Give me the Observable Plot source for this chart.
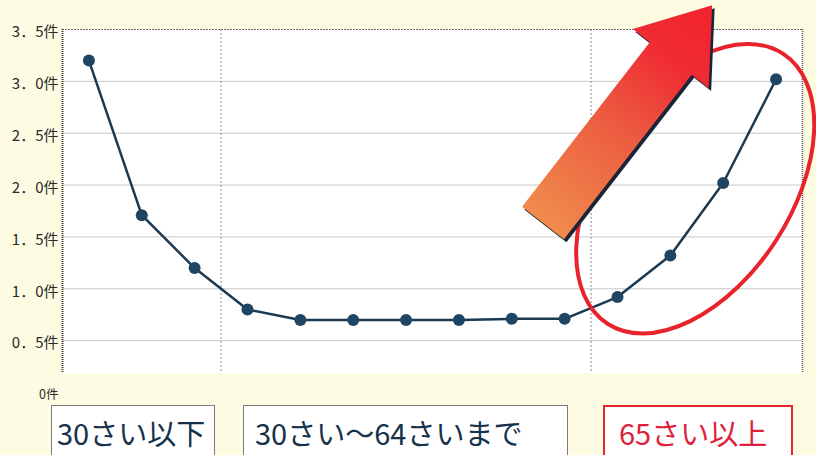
<!DOCTYPE html>
<html>
<head>
<meta charset="utf-8">
<script src="https://cdn.jsdelivr.net/npm/d3@7"></script>
<script src="https://cdn.jsdelivr.net/npm/@observablehq/plot@0.6"></script>
<style>
  html, body { margin:0; padding:0; width:816px; height:455px; overflow:hidden; background:#fdfbe2; }
  #chart { position:absolute; left:0; top:0; }
  .box { position:absolute; top:405px; height:50px; box-sizing:border-box; background:#fff;
         border:1px solid #7a7a7a; border-bottom:none; font-family:"Noto Sans CJK JP", sans-serif; font-size:29px;
         line-height:34px; padding-top:9px; color:#16324a; white-space:nowrap; overflow:visible; }
  #b0 { left:51px; width:164px; padding-left:5px; }
  #b1 { left:243px; width:325px; padding-left:11px; }
  #b2 { left:603px; width:190px; padding-left:14px; border:2.5px solid #e8262e; border-bottom:none; color:#e01f3c; padding-top:7.5px; }
</style>
</head>
<body>
<div id="chart"></div>
<script>
// ---- data ----
const categories = ["～19","20～24","25～29","30～34","35～39","40～44","45～49","50～54","55～59","60～64","65～69","70～74","75～79","80～"];
const values = [3.20, 1.71, 1.20, 0.80, 0.70, 0.70, 0.70, 0.70, 0.71, 0.71, 0.92, 1.32, 2.02, 3.02];
const groupLabels = ["30さい以下", "30さい～64さいまで", "65さい以上"];
const groupSizes = [3, 7, 4];
const yTicks = [0, 0.5, 1.0, 1.5, 2.0, 2.5, 3.0, 3.5];
// annotation anchors in data coordinates (category index, value)
const arrowTail = [8.6, 1.63];
const arrowTip = [11.8, 3.73];
const ellipseCenter = [11.48, 1.96];

const data = categories.map((c, i) => ({c, i, v: values[i]}));
const boundaries = [];
groupSizes.reduce((acc, n, k) => { acc += n; if (k < groupSizes.length - 1) boundaries.push(acc - 0.5); return acc; }, 0);

const fmt = v => v === 0 ? "0件" : v.toFixed(1).replace(".", "．") + "件";

const chart = Plot.plot({
  width: 816, height: 404,
  marginTop: 29, marginBottom: 31, marginLeft: 62, marginRight: 14,
  style: {background: "transparent", fontFamily: "'Noto Sans CJK JP', sans-serif"},
  x: {type: "linear", domain: [-0.5, categories.length - 0.5], axis: null},
  y: {domain: [0, 3.5], range: [392, 29], axis: null},
  marks: [
    Plot.frame({fill: "white", stroke: null}),
    Plot.ruleY(yTicks.filter(d => d > 0 && d < 3.5), {stroke: "#c6c6c6", strokeWidth: 1}),
    Plot.ruleX(boundaries, {stroke: "#8c8c8c", strokeDasharray: "2,2"}),
    Plot.ruleY([3.5], {stroke: "#6a6a6a", strokeDasharray: "2,1"}),
    Plot.ruleX([-0.5], {stroke: "#3a3a3a", strokeWidth: 2, strokeDasharray: "1,1"}),
    Plot.ruleX([categories.length - 0.5], {stroke: "#5a5a5a", strokeWidth: 1.5, strokeDasharray: "1,1"}),
    Plot.line(data, {x: "i", y: "v", stroke: "#1b3a52", strokeWidth: 2.5}),
    Plot.dot(data, {x: "i", y: "v", r: 6, fill: "#1f4562", stroke: null}),
    Plot.axisY(yTicks.filter(d => d > 0), {tickSize: 0, tickPadding: 4, dy: 3, fontSize: 15, color: "#2a2a2a", tickFormat: fmt, label: null}),
    Plot.axisY([0], {tickSize: 0, tickPadding: 4, dy: 2, fontSize: 12.5, color: "#2a2a2a", tickFormat: fmt, label: null})
  ]
});
document.getElementById("chart").appendChild(chart);

// ---- annotations (ellipse + big arrow) positioned through the plot scales ----
const sx = chart.scale("x"), sy = chart.scale("y");
const svg = d3.select(chart);
const ecx = sx.apply(ellipseCenter[0]), ecy = sy.apply(ellipseCenter[1]);
svg.append("ellipse")
  .attr("cx", ecx).attr("cy", ecy).attr("rx", 161).attr("ry", 96)
  .attr("transform", `rotate(-57 ${ecx} ${ecy})`)
  .attr("fill", "none").attr("stroke", "#e8232b").attr("stroke-width", 4);

const x0 = sx.apply(arrowTail[0]), y0 = sy.apply(arrowTail[1]);
const x1 = sx.apply(arrowTip[0]), y1 = sy.apply(arrowTip[1]);
const L = Math.hypot(x1 - x0, y1 - y0);
const ux = (x1 - x0) / L, uy = (y1 - y0) / L;
const px = -uy, py = ux;
const hw = 26.5, hh = 48, headLen = 67.5;
const bx = x0 + ux * (L - headLen), by = y0 + uy * (L - headLen);
const pts = [
  [x0 - px * hw, y0 - py * hw],
  [bx - px * hw, by - py * hw],
  [bx - px * hh, by - py * hh],
  [x1, y1],
  [bx + px * hh, by + py * hh],
  [bx + px * hw, by + py * hw],
  [x0 + px * hw, y0 + py * hw]
];
const defs = svg.append("defs");
const grad = defs.append("linearGradient").attr("id", "arrowGrad")
  .attr("gradientUnits", "userSpaceOnUse")
  .attr("x1", x0).attr("y1", y0).attr("x2", x1).attr("y2", y1);
grad.append("stop").attr("offset", "0%").attr("stop-color", "#f08c4c");
grad.append("stop").attr("offset", "45%").attr("stop-color", "#ec5a40");
grad.append("stop").attr("offset", "75%").attr("stop-color", "#f02c33");
grad.append("stop").attr("offset", "100%").attr("stop-color", "#f2222e");
svg.append("polygon").attr("points", pts.map(p => p.join(",")).join(" "))
  .attr("transform", "translate(2.5,3)").attr("fill", "#1c2538");
svg.append("polygon").attr("points", pts.map(p => p.join(",")).join(" "))
  .attr("fill", "url(#arrowGrad)");

// ---- group label boxes below the chart ----
groupLabels.forEach((t, k) => {
  const d = document.createElement("div");
  d.className = "box"; d.id = "b" + k; d.textContent = t;
  document.body.appendChild(d);
});
</script>
</body>
</html>
